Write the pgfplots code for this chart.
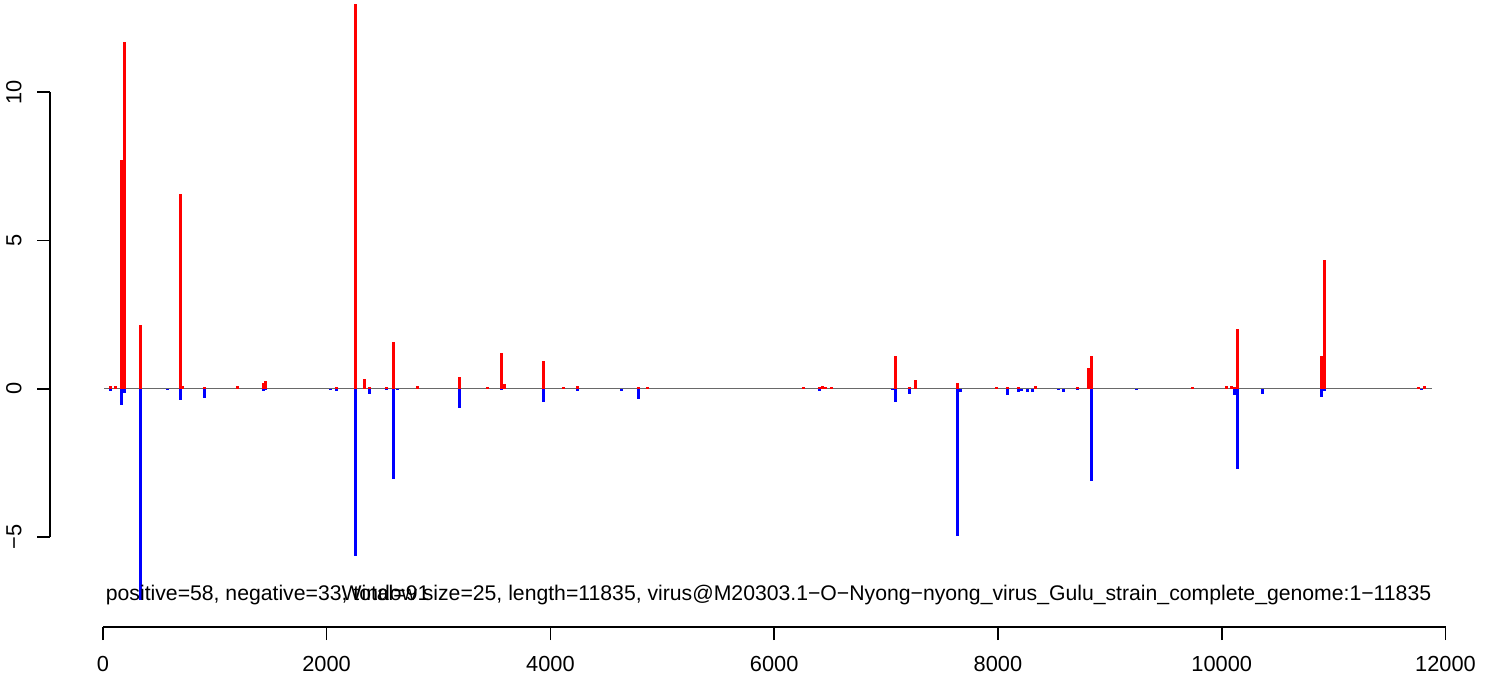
\documentclass[border=0pt]{standalone}
\usepackage{fontspec}
\setmainfont{Liberation Sans}
\usepackage{pgfplots}
\usepackage{pgfplotstable}
\pgfplotsset{compat=1.18}
\definecolor{zline}{RGB}{105,105,105}
\pgfplotstableread{
x y
65 0.08
110 0.08
165 7.72
190 11.68
333 2.16
690 6.58
711 0.08
913 0.05
1207 0.08
1437 0.19
1457 0.25
2091 0.05
2260 12.97
2340 0.32
2385 0.05
2537 0.05
2594 1.57
2814 0.08
3188 0.39
3438 0.05
3563 1.20
3590 0.15
3937 0.92
4116 0.05
4241 0.08
4785 0.05
4866 0.05
6266 0.05
6409 0.05
6436 0.11
6462 0.05
6516 0.05
7087 1.09
7212 0.05
7265 0.31
7640 0.18
7988 0.05
8086 0.05
8184 0.05
8336 0.08
8711 0.05
8809 0.69
8836 1.09
9737 0.05
10040 0.08
10085 0.08
10112 0.05
10138 2.00
10887 1.09
10915 4.35
11762 0.05
11816 0.08
}\postab
\pgfplotstableread{
x y
65 -0.07
165 -0.56
190 -0.13
333 -7.12
580 -0.05
690 -0.37
913 -0.31
1437 -0.07
1457 -0.04
2037 -0.04
2091 -0.08
2260 -5.63
2385 -0.17
2537 -0.05
2594 -3.04
2635 -0.04
3188 -0.64
3563 -0.04
3937 -0.44
4241 -0.07
4633 -0.07
4785 -0.35
6409 -0.09
7060 -0.04
7087 -0.43
7212 -0.16
7640 -4.96
7661 -0.11
8086 -0.22
8184 -0.12
8211 -0.08
8265 -0.12
8310 -0.12
8541 -0.04
8586 -0.12
8711 -0.04
8836 -3.11
9237 -0.04
10112 -0.22
10138 -2.72
10361 -0.16
10887 -0.29
10915 -0.09
11789 -0.04
}\negtab
\begin{document}
\fontsize{10.6}{12.7}\selectfont
\begin{tikzpicture}
\useasboundingbox (-25pt,-24.5pt) rectangle (724pt,313.5pt);
\begin{axis}[
  at={(0,0)}, anchor=south west,
  scale only axis, width=715pt, height=311.5pt,
  xmin=-472, xmax=12308, ymin=-8.03, ymax=12.97,
  clip=false,
  axis x line=bottom, axis y line=left,
  axis line style={draw=none},
  tick align=outside,
  major tick length=6.5pt,
  tick style={black, line width=0.75pt},
  scaled x ticks=false, scaled y ticks=false,
  xtick={0,2000,4000,6000,8000,10000,12000},
  xticklabels={0,2000,4000,6000,8000,10000,12000},
  ytick={-5,0,5,10},
  yticklabels={−5,0,5,10},
  xticklabel shift=7pt,
  yticklabel shift=4pt,
  xticklabel style={font=\fontsize{10.9}{13}\selectfont, inner sep=1pt},
  yticklabel style={rotate=90, anchor=south, font=\fontsize{10.9}{13}\selectfont},
  minor tick num=0,
]
\draw[black, line width=0.75pt] (axis cs:0,-8.03) -- (axis cs:12000,-8.03);
\draw[black, line width=0.75pt] (axis cs:-472,-5) -- (axis cs:-472,10);
\addplot[zline, line width=0.6pt, forget plot] coordinates {(15,0) (11876,0)};
\addplot[ycomb, red, line width=1.5pt, mark=none] table[x=x,y=y] {\postab};
\addplot[ycomb, blue, line width=1.5pt, mark=none] table[x=x,y=y] {\negtab};
\node[anchor=mid west, inner sep=0pt] at (axis cs:24,-6.95) {positive=58, negative=33, total=91};
\node[anchor=mid east, inner sep=0pt] at (axis cs:11876,-6.95) {Window size=25, length=11835, virus@M20303.1−O−Nyong−nyong\_virus\_Gulu\_strain\_complete\_genome:1−11835};
\end{axis}
\end{tikzpicture}
\end{document}
